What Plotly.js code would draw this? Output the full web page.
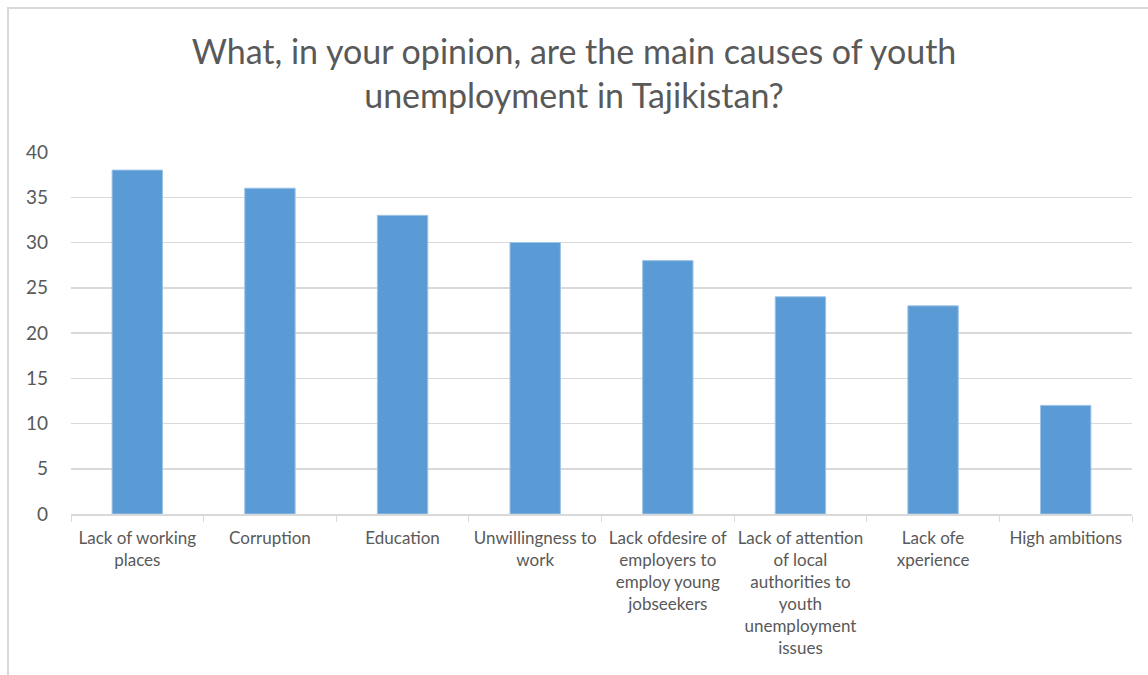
<!DOCTYPE html>
<html>
<head>
<meta charset="utf-8">
<script src="https://cdn.plot.ly/plotly-3.0.1.min.js"></script>
<style>
html,body{margin:0;padding:0;background:#fff;}
#frame{position:absolute;left:7px;top:7px;width:1160px;height:680px;border-left:2px solid #d9d9d9;border-top:2px solid #d9d9d9;}
#chart{position:absolute;left:0;top:0;width:1148px;height:675px;}
</style>
</head>
<body>
<div id="frame"></div>
<div id="chart"></div>
<script>
const categories = [
  "Lack of working places",
  "Corruption",
  "Education",
  "Unwillingness to work",
  "Lack ofdesire of employers to employ young jobseekers",
  "Lack of attention of local authorities to youth unemployment issues",
  "Lack ofe xperience",
  "High ambitions"
];
const tickLabels = [
  "Lack of working<br>places",
  "Corruption",
  "Education",
  "Unwillingness to<br>work",
  "Lack ofdesire of<br>employers to<br>employ young<br>jobseekers",
  "Lack of attention<br>of local<br>authorities to<br>youth<br>unemployment<br>issues",
  "Lack ofe<br>xperience",
  "High ambitions"
];
const values = [38, 36, 33, 30, 28, 24, 23, 12];
const yTicks = [0, 5, 10, 15, 20, 25, 30, 35, 40];

const fontFam = "Lato, 'Open Sans', sans-serif";
const trace = {
  type: "bar",
  x: categories,
  y: values,
  marker: {color: "#5B9BD5", line: {color: "#9DC3E6", width: 1}},
  hoverinfo: "x+y"
};
const layout = {
  width: 1148, height: 675,
  paper_bgcolor: "rgba(0,0,0,0)",
  plot_bgcolor: "rgba(0,0,0,0)",
  margin: {l: 71, r: 16, t: 152, b: 161},
  bargap: 0.62,
  showlegend: false,
  title: {
    text: "What, in your opinion, are the main causes of youth<br>unemployment in Tajikistan?",
    font: {family: fontFam, size: 34, color: "#595959"},
    x: 0.5, xanchor: "center",
    yref: "container", y: 0.905, yanchor: "middle"
  },
  xaxis: {
    type: "category",
    tickmode: "array",
    tickvals: categories,
    ticktext: tickLabels,
    tickson: "boundaries",
    ticks: "outside", ticklen: 6, tickcolor: "#d9d9d9", tickwidth: 1,
    showline: true, linecolor: "#d9d9d9", linewidth: 1.5,
    showgrid: false,
    tickangle: 0,
    ticklabelstandoff: 8,
    tickfont: {family: fontFam, size: 17, color: "#595959"}
  },
  yaxis: {
    range: [0, 40],
    tickmode: "array",
    tickvals: yTicks,
    ticktext: yTicks.map(String),
    showgrid: true, gridcolor: "#d9d9d9", gridwidth: 1.5,
    zeroline: false, showline: false,
    ticks: "", ticklabelstandoff: 22,
    tickfont: {family: fontFam, size: 19, color: "#595959"}
  }
};
Plotly.newPlot("chart", [trace], layout, {displayModeBar: false, staticPlot: true});
</script>
</body>
</html>
